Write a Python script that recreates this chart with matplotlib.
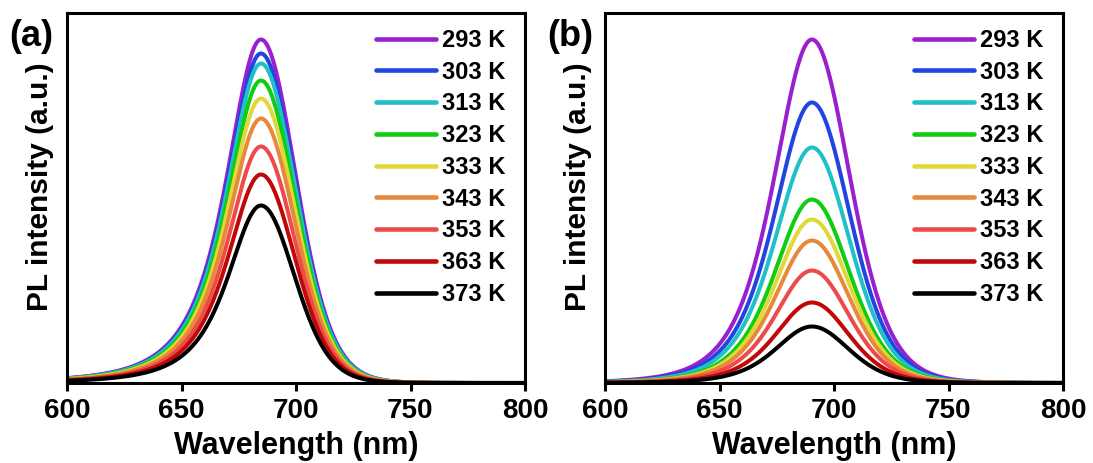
import numpy as np
import matplotlib
matplotlib.use("Agg")
import matplotlib.pyplot as plt

plt.rcParams['font.family'] = ['Liberation Sans', 'DejaVu Sans']
plt.rcParams['font.weight'] = 'bold'

# ---- data ----
temps = ["293 K", "303 K", "313 K", "323 K", "333 K", "343 K", "353 K", "363 K", "373 K"]
colors = ["#9a1fcf", "#2244e0", "#20c0c8", "#11cc11", "#e0d838",
          "#e8883a", "#ee4a4a", "#c00808", "#000000"]

# panel (a): peak centre (nm), peak height (a.u.), FWHM (nm)
a_center = [684.7, 684.7, 684.7, 684.7, 684.7, 684.7, 684.7, 684.7, 684.7]
a_height = [343.5, 329.5, 319.5, 302.5, 284.5, 264.5, 236.5, 208.5, 177.5]
a_fwhm = [35.8, 35.8, 35.8, 35.6, 35.5, 35.3, 35.0, 34.8, 34.5]

# panel (b)
b_center = [690.4, 690.4, 690.4, 690.4, 690.4, 690.4, 690.4, 690.4, 690.4]
b_height = [343.5, 280.5, 235.5, 183.5, 163.5, 142.5, 112.5, 80.5, 56.5]
b_fwhm = [39.0, 39.0, 39.0, 38.8, 38.6, 38.4, 38.2, 38.0, 37.8]

wl = np.linspace(600, 800, 1001)
Y_TOP = 370.0


def profile(x, c, h, fwhm, m_left, m_right):
    hw = fwhm / 2.0
    d = (x - c) / hw
    m = np.where(d < 0, m_left, m_right)
    return h * (1 + d ** 2 * (2 ** (1 / m) - 1)) ** (-m)


fig = plt.figure(figsize=(10.93, 4.63), dpi=100)
ax_a = fig.add_axes([67 / 1093, 80 / 463, 458 / 1093, 370 / 463])
ax_b = fig.add_axes([605 / 1093, 80 / 463, 458 / 1093, 370 / 463])

panels = [
    (ax_a, a_center, a_height, a_fwhm, 1.7, 8.0, "(a)", 9),
    (ax_b, b_center, b_height, b_fwhm, 2.6, 5.0, "(b)", 547),
]

for ax, cen, hei, fw, ml, mr, lab, lx in panels:
    for t, col, c, h, f in zip(temps, colors, cen, hei, fw):
        ax.plot(wl, profile(wl, c, h, f, ml, mr), color=col, lw=2.9,
                label=t, solid_capstyle='round')
    ax.set_xlim(600, 800)
    ax.set_ylim(0, Y_TOP)
    ax.set_xticks([600, 650, 700, 750, 800])
    ax.set_yticks([])
    ax.tick_params(axis='x', direction='out', length=6, width=2.2,
                   labelsize=20, pad=5)
    for lbl in ax.get_xticklabels():
        lbl.set_fontweight('bold')
    for sp in ax.spines.values():
        sp.set_linewidth(2.2)
    ax.set_xlabel("Wavelength (nm)", fontsize=22, fontweight='bold', labelpad=5)
    ax.set_ylabel("PL intensity (a.u.)", fontsize=21.5, fontweight='bold', labelpad=9)
    ax.yaxis.label.set_y(0.53)
    leg = ax.legend(loc='upper left', bbox_to_anchor=(0.675, 0.957),
                    frameon=False, fontsize=17, handlelength=2.55,
                    handletextpad=0.25, labelspacing=0.37, borderpad=0,
                    borderaxespad=0)
    for txt in leg.get_texts():
        txt.set_fontweight('bold')
    for ln in leg.get_lines():
        ln.set_linewidth(3.3)
    fig.text(lx / 1093, 1 - 36 / 463, lab, fontsize=26, fontweight='bold',
             ha='left', va='center')

fig.savefig("out.png", dpi=100)
